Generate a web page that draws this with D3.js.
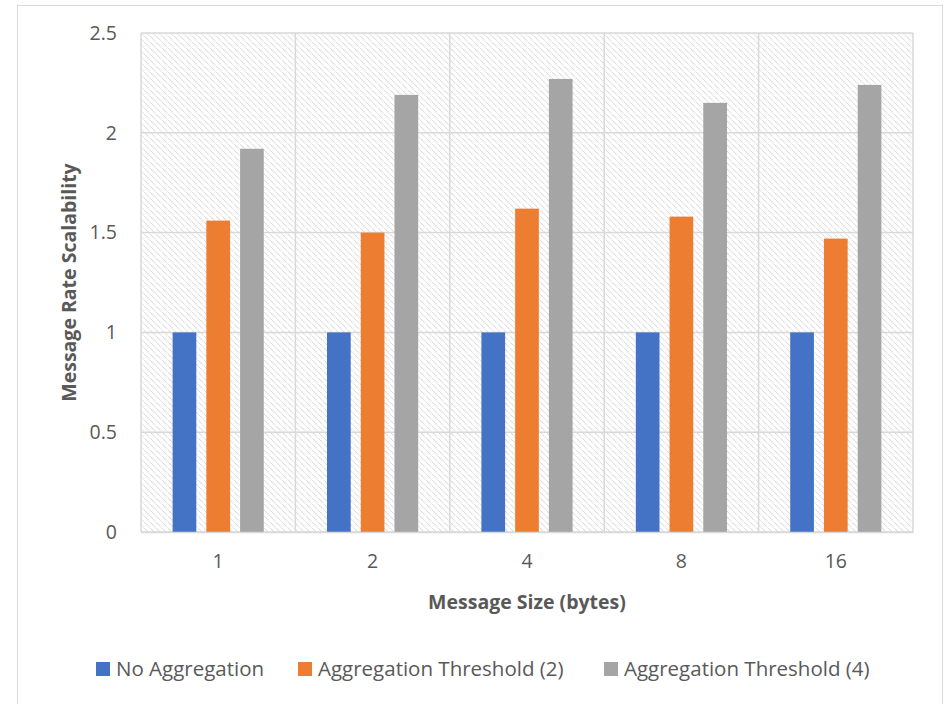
<!DOCTYPE html>
<html>
<head>
<meta charset="utf-8">
<script src="https://cdn.jsdelivr.net/npm/d3@7"></script>
<style>
  html, body { margin: 0; padding: 0; background: #ffffff; }
  svg { display: block; }
  text { font-family: "Open Sans", "Liberation Sans", sans-serif; fill: #595959; }
</style>
</head>
<body>
<svg id="chart" width="945" height="704"></svg>
<script>
const categories = ["1", "2", "4", "8", "16"];
const seriesNames = ["No Aggregation", "Aggregation Threshold (2)", "Aggregation Threshold (4)"];
const noAggregation = [1, 1, 1, 1, 1];
const threshold2 = [1.56, 1.50, 1.62, 1.58, 1.47];
const threshold4 = [1.92, 2.19, 2.27, 2.15, 2.24];
const yTicks = [0, 0.5, 1, 1.5, 2, 2.5];
const colors = ["#4472c4", "#ed7d31", "#a5a5a5"];

const seriesValues = [noAggregation, threshold2, threshold4];

const svg = d3.select("#chart");
const FS = 19.5;
const LFS = 20.5;

// outer chart border
svg.append("rect").attr("x", 17.5).attr("y", 5.5).attr("width", 925).attr("height", 710)
  .attr("fill", "#ffffff").attr("stroke", "#d9d9d9").attr("stroke-width", 1);

const plot = { left: 141, right: 913, top: 33, bottom: 532 };

// hatch pattern
const defs = svg.append("defs");
const pat = defs.append("pattern").attr("id", "hatch").attr("patternUnits", "userSpaceOnUse")
  .attr("width", 6).attr("height", 6);
pat.append("rect").attr("width", 6).attr("height", 6).attr("fill", "#ffffff");
pat.append("path").attr("d", "M0,0 L6,6 M-1,5 L1,7 M5,-1 L7,1")
  .attr("stroke", "#d3d3d3").attr("stroke-width", 1.1).attr("stroke-dasharray", "1,0.6");

const x0 = d3.scaleBand().domain(categories).range([plot.left, plot.right]).paddingInner(0).paddingOuter(0);
const y = d3.scaleLinear().domain([0, 2.5]).range([plot.bottom, plot.top]);

svg.append("rect").attr("x", plot.left).attr("y", plot.top)
  .attr("width", plot.right - plot.left).attr("height", plot.bottom - plot.top)
  .attr("fill", "url(#hatch)");

// horizontal gridlines
svg.append("g").selectAll("line").data(yTicks).join("line")
  .attr("x1", plot.left).attr("x2", plot.right)
  .attr("y1", d => y(d)).attr("y2", d => y(d))
  .attr("stroke", "#d9d9d9").attr("stroke-width", 1.5);

// vertical gridlines at category boundaries
const bounds = categories.map(c => x0(c)).concat([x0(categories[categories.length - 1]) + x0.bandwidth()]);
svg.append("g").selectAll("line").data(bounds).join("line")
  .attr("x1", d => d).attr("x2", d => d)
  .attr("y1", plot.top).attr("y2", plot.bottom)
  .attr("stroke", "#d9d9d9").attr("stroke-width", 1.5);

// bars
const step = x0.bandwidth();
const barW = step * 0.1535;
const gap = step * 0.065;
const groupW = barW * 3 + gap * 2;
const x1 = d3.scaleOrdinal().domain([0, 1, 2]).range([0, barW + gap, 2 * (barW + gap)]);

seriesValues.forEach((vals, si) => {
  svg.append("g").selectAll("rect").data(vals).join("rect")
    .attr("x", (d, i) => x0(categories[i]) + (step - groupW) / 2 + x1(si))
    .attr("y", d => y(d))
    .attr("width", barW)
    .attr("height", d => y(0) - y(d))
    .attr("fill", colors[si]);
});

// y axis labels
const yAxis = d3.axisLeft(y).tickValues(yTicks).tickSize(0).tickPadding(24).tickFormat(d3.format("~g"));
const gy = svg.append("g").attr("transform", `translate(${plot.left},0)`).call(yAxis);
gy.select(".domain").remove();
gy.selectAll("text").attr("font-size", FS).style("fill", "#595959")
  .attr("font-family", "Open Sans, sans-serif");

// x axis labels
const xAxis = d3.axisBottom(x0).tickSize(0).tickPadding(22);
const gx = svg.append("g").attr("transform", `translate(0,${plot.bottom})`).call(xAxis);
gx.select(".domain").attr("stroke", "#d9d9d9").attr("stroke-width", 1.5);
gx.selectAll("text").attr("font-size", FS).style("fill", "#595959")
  .attr("font-family", "Open Sans, sans-serif");

// axis titles
svg.append("text").attr("x", (plot.left + plot.right) / 2).attr("y", 609)
  .attr("text-anchor", "middle").attr("font-size", FS).attr("font-weight", "bold")
  .text("Message Size (bytes)");
svg.append("text").attr("transform", `translate(76,${(plot.top + plot.bottom) / 2}) rotate(-90)`)
  .attr("text-anchor", "middle").attr("font-size", FS).attr("font-weight", "bold")
  .text("Message Rate Scalability");

// legend
const legendX = [96, 298, 604];
const lg = svg.append("g").selectAll("g").data(seriesNames).join("g")
  .attr("transform", (d, i) => `translate(${legendX[i]},662)`);
lg.append("rect").attr("width", 14).attr("height", 14).attr("fill", (d, i) => colors[i]);
lg.append("text").attr("x", 20).attr("y", 14).attr("font-size", LFS).text(d => d);
</script>
</body>
</html>
